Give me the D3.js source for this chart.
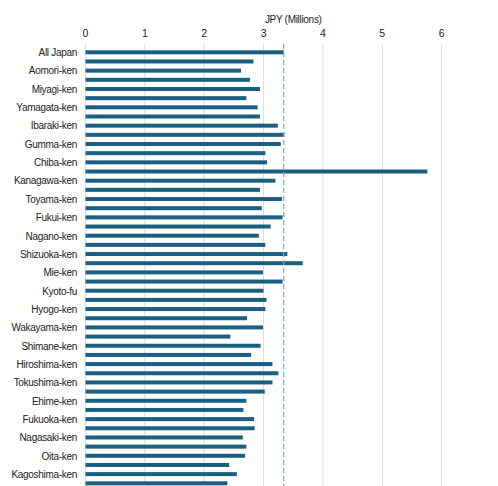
<!DOCTYPE html>
<html>
<head>
<meta charset="utf-8">
<script src="https://cdn.jsdelivr.net/npm/d3@7"></script>
<style>
  html, body { margin: 0; padding: 0; background: #fff; }
  svg { display: block; }
  text { font-family: "Liberation Sans", Arial, Helvetica, sans-serif; }
</style>
</head>
<body>
<svg id="chart" width="498" height="486"></svg>
<script>
// Average income by prefecture, JPY millions
const prefectures = [
  "All Japan", "Hokkaido", "Aomori-ken", "Iwate-ken", "Miyagi-ken", "Akita-ken",
  "Yamagata-ken", "Fukushima-ken", "Ibaraki-ken", "Tochigi-ken", "Gumma-ken",
  "Saitama-ken", "Chiba-ken", "Tokyo-to", "Kanagawa-ken", "Niigata-ken",
  "Toyama-ken", "Ishikawa-ken", "Fukui-ken", "Yamanashi-ken", "Nagano-ken",
  "Gifu-ken", "Shizuoka-ken", "Aichi-ken", "Mie-ken", "Shiga-ken", "Kyoto-fu",
  "Osaka-fu", "Hyogo-ken", "Nara-ken", "Wakayama-ken", "Tottori-ken",
  "Shimane-ken", "Okayama-ken", "Hiroshima-ken", "Yamaguchi-ken",
  "Tokushima-ken", "Kagawa-ken", "Ehime-ken", "Kochi-ken", "Fukuoka-ken",
  "Saga-ken", "Nagasaki-ken", "Kumamoto-ken", "Oita-ken", "Miyazaki-ken",
  "Kagoshima-ken", "Okinawa-ken"
];
const values = [
  3.34, 2.83, 2.62, 2.77, 2.94, 2.71,
  2.90, 2.94, 3.24, 3.35, 3.29,
  3.03, 3.06, 5.76, 3.20, 2.94,
  3.31, 2.97, 3.32, 3.12, 2.92,
  3.03, 3.40, 3.66, 2.99, 3.32, 3.00,
  3.05, 3.03, 2.72, 2.99, 2.44,
  2.95, 2.79, 3.15, 3.25,
  3.15, 3.02, 2.71, 2.66, 2.84,
  2.85, 2.65, 2.71, 2.69, 2.42,
  2.55, 2.39
];
const xTicks = [0, 1, 2, 3, 4, 5, 6];
const axisTitle = "JPY (Millions)";
const referenceValue = values[0];

const svg = d3.select("#chart");
const width = 498, height = 486;
const margin = { top: 48, right: -3, bottom: 0, left: 85.5 };

const x = d3.scaleLinear()
  .domain([0, 7])
  .range([margin.left, width - margin.right]);

const y = d3.scalePoint()
  .domain(prefectures)
  .range([52.3, 483.3]);

// vertical gridlines
svg.append("g")
  .selectAll("line")
  .data(xTicks)
  .join("line")
  .attr("x1", d => x(d)).attr("x2", d => x(d))
  .attr("y1", 44).attr("y2", height)
  .attr("stroke", "#dcdcdc")
  .attr("stroke-width", 1);

// top axis tick labels
svg.append("g")
  .selectAll("text")
  .data(xTicks)
  .join("text")
  .attr("x", d => x(d))
  .attr("y", 37)
  .attr("text-anchor", "middle")
  .attr("font-size", 10.5)
  .attr("fill", "#222")
  .text(d => d);

// axis title
svg.append("text")
  .attr("x", (x(0) + x(7)) / 2)
  .attr("y", 23)
  .attr("text-anchor", "middle")
  .attr("font-size", 10)
  .attr("letter-spacing", -0.3)
  .attr("fill", "#222")
  .text(axisTitle);

// bars
svg.append("g")
  .selectAll("rect")
  .data(prefectures)
  .join("rect")
  .attr("x", x(0))
  .attr("y", d => y(d) - 2)
  .attr("width", (d, i) => x(values[i]) - x(0))
  .attr("height", 4)
  .attr("fill", "#1b5f82");

// national average reference line
svg.append("line")
  .attr("x1", x(referenceValue)).attr("x2", x(referenceValue))
  .attr("y1", 44).attr("y2", height)
  .attr("stroke", "#6fa6dc")
  .attr("stroke-width", 1.2)
  .attr("stroke-dasharray", "5,3");

// category labels, every other prefecture
svg.append("g")
  .selectAll("text")
  .data(prefectures.filter((d, i) => i % 2 === 0))
  .join("text")
  .attr("x", 77)
  .attr("y", d => y(d) + 3.8)
  .attr("text-anchor", "end")
  .attr("font-size", 10)
  .attr("letter-spacing", -0.3)
  .attr("fill", "#222")
  .text(d => d);
</script>
</body>
</html>
